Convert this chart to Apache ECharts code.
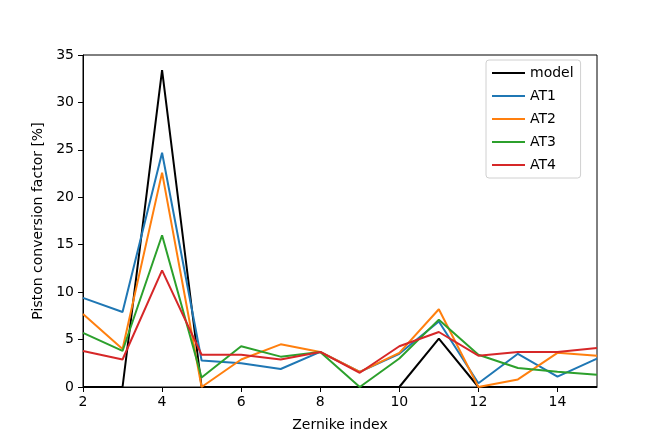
<!DOCTYPE html>
<html>
<head>
<meta charset="utf-8">
<script src="https://cdn.jsdelivr.net/npm/echarts@6/dist/echarts.min.js"></script>
<style>
html,body{margin:0;padding:0;background:#fff;}
#c{width:664px;height:443px;}
</style>
</head>
<body>
<div id="c"></div>
<script>
const zernike = [2, 3, 4, 5, 6, 7, 8, 9, 10, 11, 12, 13, 14, 15];
const model = [0, 0, 33.4, 0, 0, 0, 0, 0, 0, 5.1, 0, 0, 0, 0];
const at1 = [9.4, 7.9, 24.7, 2.8, 2.5, 1.9, 3.7, 1.6, 3.5, 6.9, 0.4, 3.5, 1.1, 3.0];
const at2 = [7.7, 4.0, 22.6, 0.0, 2.9, 4.5, 3.7, 1.6, 3.6, 8.2, 0.0, 0.8, 3.6, 3.3];
const at3 = [5.7, 3.8, 16.0, 1.0, 4.3, 3.2, 3.7, 0.0, 3.0, 7.1, 3.4, 2.0, 1.6, 1.3];
const at4 = [3.8, 2.9, 12.3, 3.4, 3.4, 2.9, 3.7, 1.5, 4.3, 5.8, 3.3, 3.7, 3.7, 4.1];
const seriesNames = ['model', 'AT1', 'AT2', 'AT3', 'AT4'];
const seriesColors = ['#000000', '#1f77b4', '#ff7f0e', '#2ca02c', '#d62728'];
const seriesValues = [model, at1, at2, at3, at4];

const font = 'DejaVu Sans';
const chart = echarts.init(document.getElementById('c'), null, {renderer: 'canvas'});
chart.setOption({
  animation: false,
  backgroundColor: '#fff',
  textStyle: {fontFamily: font},
  grid: {left: 83, right: 67, top: 55, bottom: 56, show: true, borderColor: '#000', borderWidth: 1, backgroundColor: 'transparent'},
  legend: {
    orient: 'vertical', left: 486, top: 60,
    padding: [6, 7, 6, 6],
    itemGap: 9, itemWidth: 33, itemHeight: 2, itemTextGap: 12,
    icon: 'rect',
    borderColor: '#d0d0d0', borderWidth: 1, borderRadius: 3,
    backgroundColor: 'rgba(255,255,255,0.8)',
    textStyle: {fontFamily: font, fontSize: 14, color: '#000'},
    data: seriesNames
  },
  xAxis: {
    type: 'value', min: 2, max: 15, interval: 2,
    name: 'Zernike index', nameLocation: 'middle', nameGap: 31,
    nameTextStyle: {fontFamily: font, fontSize: 14, color: '#000'},
    axisLine: {show: true, lineStyle: {color: '#000', width: 1}},
    axisTick: {show: true, inside: false, length: 5, lineStyle: {color: '#000'}},
    axisLabel: {fontFamily: font, fontSize: 14, color: '#000', margin: 8, showMaxLabel: false},
    splitLine: {show: false}
  },
  yAxis: {
    type: 'value', min: 0, max: 35, interval: 5,
    name: 'Piston conversion factor [%]', nameLocation: 'middle', nameGap: 36, nameRotate: 90,
    nameTextStyle: {fontFamily: font, fontSize: 14, color: '#000'},
    axisLine: {show: true, lineStyle: {color: '#000', width: 1}},
    axisTick: {show: true, inside: false, length: 5, lineStyle: {color: '#000'}},
    axisLabel: {fontFamily: font, fontSize: 14, color: '#000', margin: 9},
    splitLine: {show: false}
  },
  series: seriesNames.map((n, i) => ({
    name: n, type: 'line',
    data: zernike.map((x, j) => [x, seriesValues[i][j]]),
    symbol: 'none', showSymbol: false,
    lineStyle: {color: seriesColors[i], width: 2},
    itemStyle: {color: seriesColors[i]},
    clip: true
  }))
});
</script>
</body>
</html>
